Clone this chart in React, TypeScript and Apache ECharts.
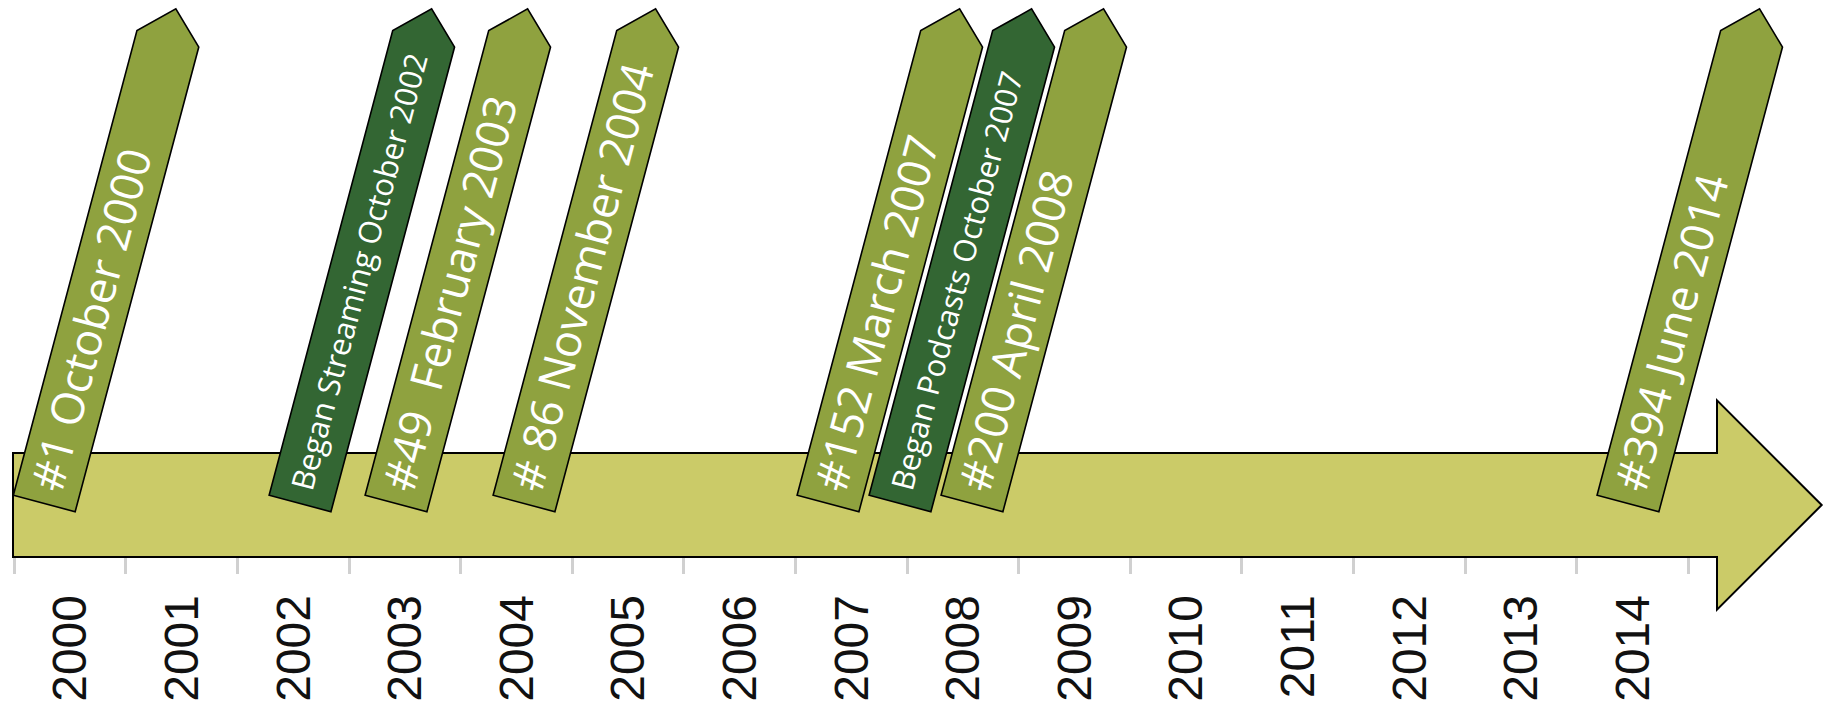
import React, { useEffect, useRef } from 'react';
import * as echarts from 'echarts';

// Axis categories (tick labels)
const years = ['2000', '2001', '2002', '2003', '2004', '2005', '2006', '2007', '2008', '2009', '2010', '2011', '2012', '2013', '2014'];

// Timeline events: label text, position along the axis (in year-bands from the start of 2000), kind
const eventLabels = [
  '#1 October 2000',
  'Began Streaming October 2002',
  '#49  February 2003',
  '# 86 November 2004',
  '#152 March 2007',
  'Began Podcasts October 2007',
  '#200 April 2008',
  '#394 June 2014',
];
const eventPositions = [0.271, 2.563, 3.423, 4.57, 7.294, 7.939, 8.584, 14.462];
const eventKinds = ['episode', 'milestone', 'episode', 'episode', 'episode', 'milestone', 'episode', 'episode'];

const KIND_FILL: Record<string, string> = { episode: '#8fa23f', milestone: '#336633' };
const KIND_FONT: Record<string, number> = { episode: 45, milestone: 31 };

const FLAG_ANGLE = (75.1 * Math.PI) / 180;
const FLAG_LEN = 481;
const FLAG_TIP = 31;
const FLAG_HALF_W = 32;
const FLAG_RAISE = 53.5;

export default function App() {
  const ref = useRef<HTMLDivElement>(null);

  useEffect(() => {
    if (!ref.current) return;
    const chart = echarts.init(ref.current, undefined, { renderer: 'svg' });

    const option: any = {
      animation: false,
      backgroundColor: '#ffffff',
      grid: { left: 14, right: 142, top: 0, bottom: 150, containLabel: false },
      xAxis: [
        {
          type: 'category',
          data: years,
          boundaryGap: true,
          axisLine: { show: false },
          axisTick: { show: true, length: 17, lineStyle: { color: '#d0d0d0', width: 3 } },
          axisLabel: {
            interval: 0,
            rotate: 90,
            margin: 38,
            fontSize: 48,
            fontFamily: 'Liberation Sans',
            color: '#111111',
          },
          splitLine: { show: false },
        },
        { type: 'value', min: 0, max: 15, show: false, gridIndex: 0 },
      ],
      yAxis: { type: 'value', min: 0, max: 1, show: false },
      series: [
        {
          type: 'custom',
          name: 'arrow',
          xAxisIndex: 1,
          data: [[0, 0]],
          encode: { x: 0, y: 1 },
          silent: true,
          z: 1,
          renderItem: (params: any, api: any) => {
            const start = api.coord([0, 0]);
            const end = api.coord([15, 0]);
            const axisY = start[1];
            const cy = axisY - 52;
            const bodyHalf = 52;
            const headHalf = 104.6;
            const x0 = start[0] - 1;
            const shaftEnd = end[0] + 29;
            const tipX = shaftEnd + 104.7;
            return {
              type: 'polygon',
              shape: {
                points: [
                  [x0, cy - bodyHalf],
                  [shaftEnd, cy - bodyHalf],
                  [shaftEnd, cy - headHalf],
                  [tipX, cy],
                  [shaftEnd, cy + headHalf],
                  [shaftEnd, cy + bodyHalf],
                  [x0, cy + bodyHalf],
                ],
              },
              style: { fill: '#cbcb68', stroke: '#000000', lineWidth: 2 },
            };
          },
        },
        {
          type: 'custom',
          name: 'events',
          xAxisIndex: 1,
          data: eventPositions.map((p) => [p, 0]),
          encode: { x: 0, y: 1 },
          silent: true,
          z: 3,
          renderItem: (params: any, api: any) => {
            const i = params.dataIndex;
            const pt = api.coord([api.value(0), 0]);
            const kind = eventKinds[i];
            const fs = KIND_FONT[kind];
            return {
              type: 'group',
              x: pt[0],
              y: pt[1] - FLAG_RAISE,
              rotation: FLAG_ANGLE,
              children: [
                {
                  type: 'polygon',
                  shape: {
                    points: [
                      [0, -FLAG_HALF_W],
                      [FLAG_LEN, -FLAG_HALF_W],
                      [FLAG_LEN + FLAG_TIP, 0],
                      [FLAG_LEN, FLAG_HALF_W],
                      [0, FLAG_HALF_W],
                    ],
                  },
                  style: { fill: KIND_FILL[kind], stroke: '#000000', lineWidth: 1.6 },
                },
                {
                  type: 'text',
                  x: 14,
                  y: -3,
                  style: {
                    text: eventLabels[i],
                    fill: '#ffffff',
                    fontSize: fs,
                    fontFamily: 'Open Sans',
                    textAlign: 'left',
                    textVerticalAlign: 'middle',
                    align: 'left',
                    verticalAlign: 'middle',
                  },
                },
              ],
            };
          },
        },
      ],
    };

    chart.setOption(option);
    return () => chart.dispose();
  }, []);

  return (
    <div
      ref={ref}
      style={{ position: 'fixed', left: 0, top: 0, width: '1830px', height: '707px' }}
    />
  );
}
